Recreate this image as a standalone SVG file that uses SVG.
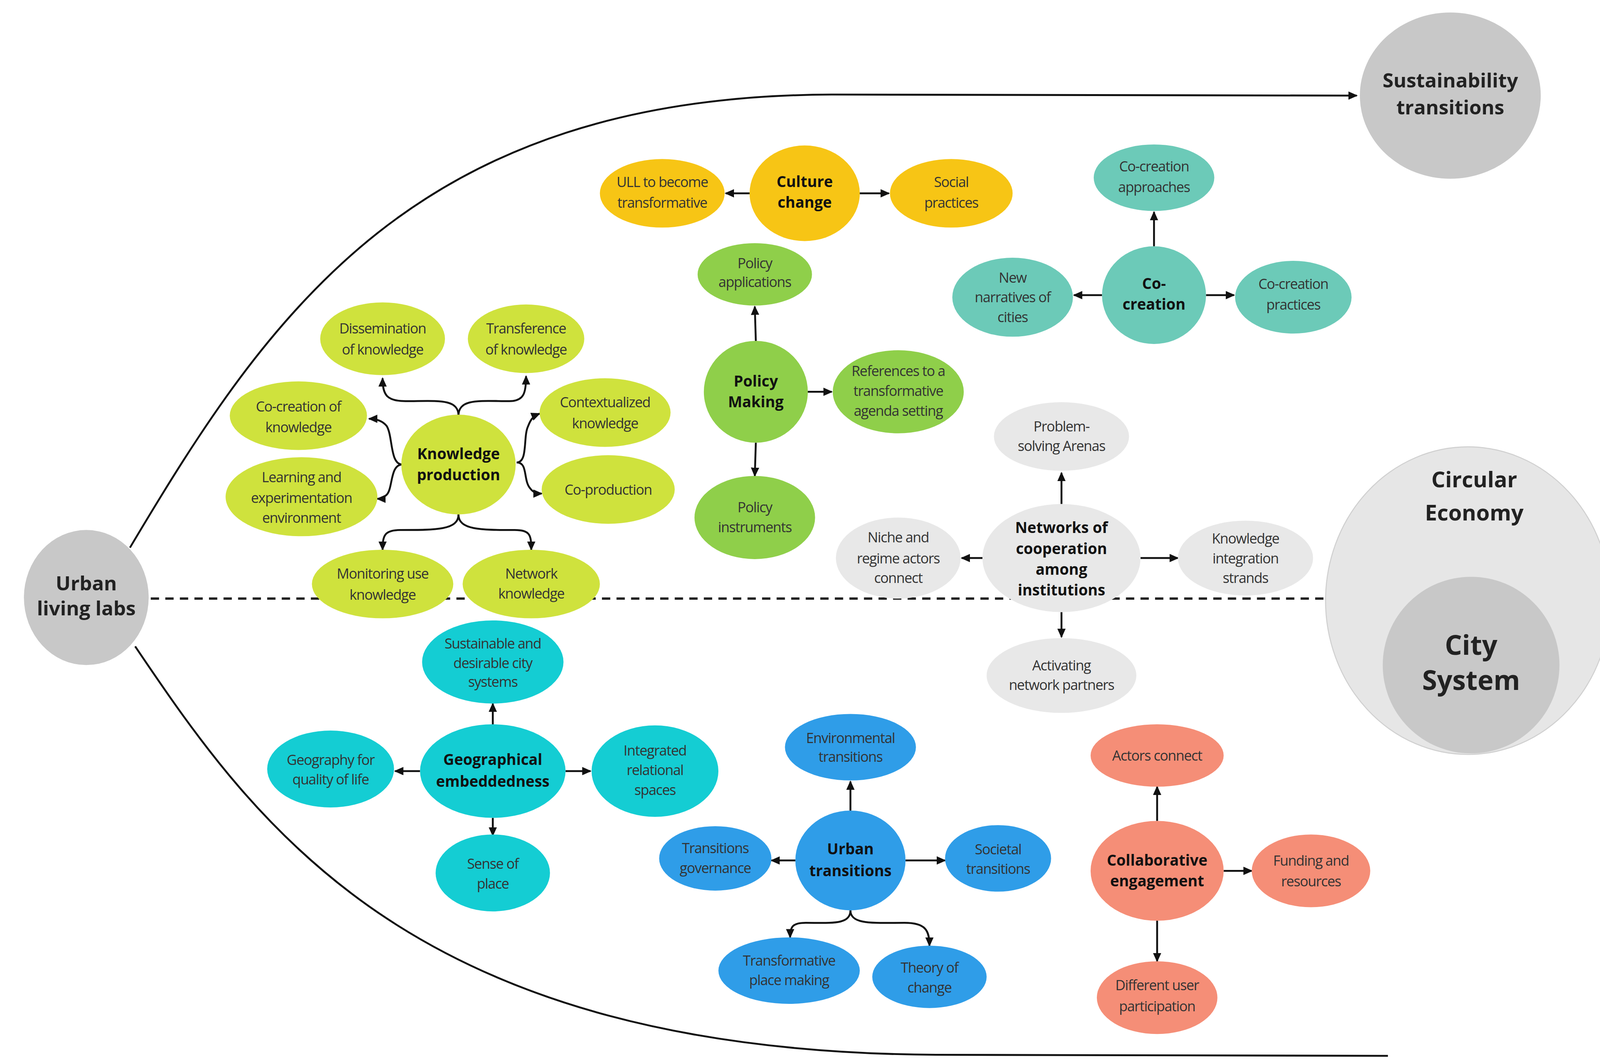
<svg xmlns="http://www.w3.org/2000/svg" width="4152" height="2725" viewBox="0 0 4152 2725">
<defs>
<marker id="ah" markerUnits="userSpaceOnUse" markerWidth="9" markerHeight="8" refX="8" refY="4" orient="auto"><path d="M0,0 L9,4 L0,8 z" fill="#111"/></marker>
<style>
text{font-family:"Open Sans","Liberation Sans",sans-serif;text-anchor:middle;fill:#333;font-size:13.5px;letter-spacing:-0.5px}
.b{font-weight:bold;fill:#111;font-size:14.5px;letter-spacing:0}
.big{font-weight:bold;fill:#222;font-size:19px;letter-spacing:0}
.c{fill:none;stroke:#111;stroke-width:1.8;marker-end:url(#ah)}
.kp{fill:#cfe23d}.cc{fill:#f7c515}.pm{fill:#8fcf4a}.co{fill:#6ccab8}.nw{fill:#e8e8e8}.ge{fill:#14cdd3}.ut{fill:#2f9de8}.ce{fill:#f58e77}
</style>
</defs>
<rect width="4152" height="2725" fill="#fff"/>
<g transform="scale(2.6615)">
<g id="frame">
<path d="M125,527 C260,300 400,92 800,91 L1305,92" fill="none" stroke="#111" stroke-width="1.8" marker-end="url(#ah)"/>
<path d="M130,622 C250,800 400,1012 900,1015 L1335,1016" fill="none" stroke="#111" stroke-width="1.8"/>
<line x1="145" y1="576" x2="1278" y2="576" stroke="#222" stroke-width="2.2" stroke-dasharray="8,6"/>
</g>
<g id="ull"><ellipse cx="83" cy="575" rx="60" ry="65" fill="#c8c8c8"/><text class="big" x="83" y="568">Urban</text><text class="big" x="83" y="592">living labs</text></g>
<g id="sust"><ellipse cx="1395" cy="92" rx="87" ry="80" fill="#c8c8c8"/><text class="big" x="1395" y="84">Sustainability</text><text class="big" x="1395" y="110">transitions</text></g>
<g id="ce"><ellipse cx="1412" cy="578" rx="137" ry="148" fill="#e6e6e6" stroke="#d0d0d0"/><text class="big" x="1418" y="469" style="font-size:21px">Circular</text><text class="big" x="1418" y="501" style="font-size:21px">Economy</text></g>
<g id="city"><ellipse cx="1415" cy="640" rx="85" ry="85" fill="#c8c8c8"/><text class="big" x="1415" y="630" style="font-size:26px">City</text><text class="big" x="1415" y="664" style="font-size:26px">System</text></g>

<g id="connectors">
<path class="c" d="M441,400 C441,383 420,386 390,386 C372,386 368,380 368,364"/>
<path class="c" d="M441,400 C441,383 462,386 490,386 C504,386 506,378 506,362"/>
<path class="c" d="M387,447 C375,447 378,420 372,410 C368,405 362,403 355,403"/>
<path class="c" d="M387,447 C375,447 378,470 372,476 C369,479 366,480 363,480"/>
<path class="c" d="M497,445 C508,445 503,420 508,410 C511,402 514,400 519,398"/>
<path class="c" d="M497,445 C508,445 503,462 510,470 C513,474 516,475 521,475"/>
<path class="c" d="M441,495 C441,510 420,510 385,510 C370,510 368,515 368,529"/>
<path class="c" d="M441,495 C441,510 462,510 495,510 C510,510 511,515 511,529"/>
<path class="c" d="M721,186 L698,186"/><path class="c" d="M827,186 L855,186"/>
<path class="c" d="M727,328 L726,295"/><path class="c" d="M777,377 L800,377"/><path class="c" d="M727,426 L726,458"/>
<path class="c" d="M1110,237 L1110,204"/><path class="c" d="M1060,284 L1033,284"/><path class="c" d="M1160,284 L1187,284"/>
<path class="c" d="M1021,485 L1021,455"/><path class="c" d="M945,537 L925,537"/><path class="c" d="M1097,537 L1133,537"/><path class="c" d="M1021,589 L1021,613"/>
<path class="c" d="M474,697 L474,677"/><path class="c" d="M404,742 L380,742"/><path class="c" d="M544,742 L568,742"/><path class="c" d="M474,787 L474,804"/>
<path class="c" d="M818,780 L818,752"/><path class="c" d="M765,828 L742,828"/><path class="c" d="M871,828 L909,828"/>
<path class="c" d="M818,876 C818,890 800,888 775,888 C762,888 760,892 760,902"/>
<path class="c" d="M818,876 C818,890 840,888 870,888 C890,888 894,895 894,910"/>
<path class="c" d="M1113,790 L1113,757"/><path class="c" d="M1177,838 L1204,838"/><path class="c" d="M1113,886 L1113,925"/>
</g>

<g id="kp"><ellipse class="kp" cx="441" cy="447" rx="55" ry="48"/><text class="b" x="441" y="442">Knowledge</text><text class="b" x="441" y="462">production</text></g>
<g id="kp1"><ellipse class="kp" cx="368" cy="326" rx="60" ry="35"/><text x="368" y="321">Dissemination</text><text x="368" y="341">of knowledge</text></g>
<g id="kp2"><ellipse class="kp" cx="506" cy="326" rx="56" ry="33"/><text x="506" y="321">Transference</text><text x="506" y="341">of knowledge</text></g>
<g id="kp3"><ellipse class="kp" cx="287" cy="400" rx="66" ry="33"/><text x="287" y="396">Co-creation of</text><text x="287" y="416">knowledge</text></g>
<g id="kp4"><ellipse class="kp" cx="582" cy="397" rx="63" ry="33"/><text x="582" y="392">Contextualized</text><text x="582" y="412">knowledge</text></g>
<g id="kp5"><ellipse class="kp" cx="290" cy="478" rx="73" ry="38"/><text x="290" y="464">Learning and</text><text x="290" y="484">experimentation</text><text x="290" y="503">environment</text></g>
<g id="kp6"><ellipse class="kp" cx="585" cy="471" rx="64" ry="33"/><text x="585" y="476">Co-production</text></g>
<g id="kp7"><ellipse class="kp" cx="368" cy="562" rx="68" ry="33"/><text x="368" y="557">Monitoring use</text><text x="368" y="577">knowledge</text></g>
<g id="kp8"><ellipse class="kp" cx="511" cy="562" rx="66" ry="33"/><text x="511" y="557">Network</text><text x="511" y="576">knowledge</text></g>

<g id="cc"><ellipse class="cc" cx="774" cy="186" rx="53" ry="46"/><text class="b" x="774" y="180">Culture</text><text class="b" x="774" y="200">change</text></g>
<g id="cc1"><ellipse class="cc" cx="637" cy="186" rx="60" ry="33"/><text x="637" y="180">ULL to become</text><text x="637" y="200">transformative</text></g>
<g id="cc2"><ellipse class="cc" cx="915" cy="186" rx="59" ry="33"/><text x="915" y="180">Social</text><text x="915" y="200">practices</text></g>

<g id="pm"><ellipse class="pm" cx="727" cy="377" rx="50" ry="49"/><text class="b" x="727" y="372">Policy</text><text class="b" x="727" y="392">Making</text></g>
<g id="pm1"><ellipse class="pm" cx="726" cy="264" rx="55" ry="30"/><text x="726" y="258">Policy</text><text x="726" y="276">applications</text></g>
<g id="pm2"><ellipse class="pm" cx="864" cy="377" rx="63" ry="40"/><text x="864" y="362">References to a</text><text x="864" y="381">transformative</text><text x="864" y="400">agenda setting</text></g>
<g id="pm3"><ellipse class="pm" cx="726" cy="498" rx="58" ry="40"/><text x="726" y="493">Policy</text><text x="726" y="512">instruments</text></g>

<g id="co"><ellipse class="co" cx="1110" cy="284" rx="50" ry="47"/><text class="b" x="1110" y="278">Co-</text><text class="b" x="1110" y="298">creation</text></g>
<g id="co1"><ellipse class="co" cx="1110" cy="171" rx="58" ry="32"/><text x="1110" y="165">Co-creation</text><text x="1110" y="185">approaches</text></g>
<g id="co2"><ellipse class="co" cx="974" cy="286" rx="58" ry="38"/><text x="974" y="272">New</text><text x="974" y="291">narratives of</text><text x="974" y="310">cities</text></g>
<g id="co3"><ellipse class="co" cx="1244" cy="286" rx="56" ry="35"/><text x="1244" y="278">Co-creation</text><text x="1244" y="298">practices</text></g>

<g id="nw"><ellipse class="nw" cx="1021" cy="537" rx="76" ry="52"/><text class="b" x="1021" y="513">Networks of</text><text class="b" x="1021" y="533">cooperation</text><text class="b" x="1021" y="553">among</text><text class="b" x="1021" y="573">institutions</text></g>
<g id="nw1"><ellipse class="nw" cx="1021" cy="420" rx="65" ry="33"/><text x="1021" y="415">Problem-</text><text x="1021" y="434">solving Arenas</text></g>
<g id="nw2"><ellipse class="nw" cx="864" cy="537" rx="60" ry="39"/><text x="864" y="522">Niche and</text><text x="864" y="542">regime actors</text><text x="864" y="561">connect</text></g>
<g id="nw3"><ellipse class="nw" cx="1198" cy="537" rx="65" ry="36"/><text x="1198" y="523">Knowledge</text><text x="1198" y="542">integration</text><text x="1198" y="561">strands</text></g>
<g id="nw4"><ellipse class="nw" cx="1021" cy="650" rx="72" ry="36"/><text x="1021" y="645">Activating</text><text x="1021" y="664">network partners</text></g>

<g id="ge"><ellipse class="ge" cx="474" cy="742" rx="70" ry="45"/><text class="b" x="474" y="736">Geographical</text><text class="b" x="474" y="757">embeddedness</text></g>
<g id="ge1"><ellipse class="ge" cx="474" cy="637" rx="68" ry="40"/><text x="474" y="624">Sustainable and</text><text x="474" y="643">desirable city</text><text x="474" y="661">systems</text></g>
<g id="ge2"><ellipse class="ge" cx="318" cy="740" rx="61" ry="37"/><text x="318" y="736">Geography for</text><text x="318" y="755">quality of life</text></g>
<g id="ge3"><ellipse class="ge" cx="630" cy="742" rx="61" ry="44"/><text x="630" y="727">Integrated</text><text x="630" y="746">relational</text><text x="630" y="765">spaces</text></g>
<g id="ge4"><ellipse class="ge" cx="474" cy="840" rx="55" ry="37"/><text x="474" y="836">Sense of</text><text x="474" y="855">place</text></g>

<g id="ut"><ellipse class="ut" cx="818" cy="828" rx="53" ry="48"/><text class="b" x="818" y="822">Urban</text><text class="b" x="818" y="843">transitions</text></g>
<g id="ut1"><ellipse class="ut" cx="818" cy="719" rx="63" ry="32"/><text x="818" y="715">Environmental</text><text x="818" y="733">transitions</text></g>
<g id="ut2"><ellipse class="ut" cx="688" cy="826" rx="54" ry="31"/><text x="688" y="821">Transitions</text><text x="688" y="840">governance</text></g>
<g id="ut3"><ellipse class="ut" cx="960" cy="826" rx="51" ry="32"/><text x="960" y="822">Societal</text><text x="960" y="841">transitions</text></g>
<g id="ut4"><ellipse class="ut" cx="759" cy="934" rx="68" ry="32"/><text x="759" y="929">Transformative</text><text x="759" y="948">place making</text></g>
<g id="ut5"><ellipse class="ut" cx="894" cy="940" rx="55" ry="30"/><text x="894" y="936">Theory of</text><text x="894" y="955">change</text></g>

<g id="cen"><ellipse class="ce" cx="1113" cy="838" rx="64" ry="48"/><text class="b" x="1113" y="833">Collaborative</text><text class="b" x="1113" y="853">engagement</text></g>
<g id="ce1"><ellipse class="ce" cx="1113" cy="727" rx="64" ry="30"/><text x="1113" y="732">Actors connect</text></g>
<g id="ce2"><ellipse class="ce" cx="1261" cy="838" rx="57" ry="35"/><text x="1261" y="833">Funding and</text><text x="1261" y="853">resources</text></g>
<g id="ce3"><ellipse class="ce" cx="1113" cy="960" rx="58" ry="35"/><text x="1113" y="953">Different user</text><text x="1113" y="973">participation</text></g>
</g>
</svg>
